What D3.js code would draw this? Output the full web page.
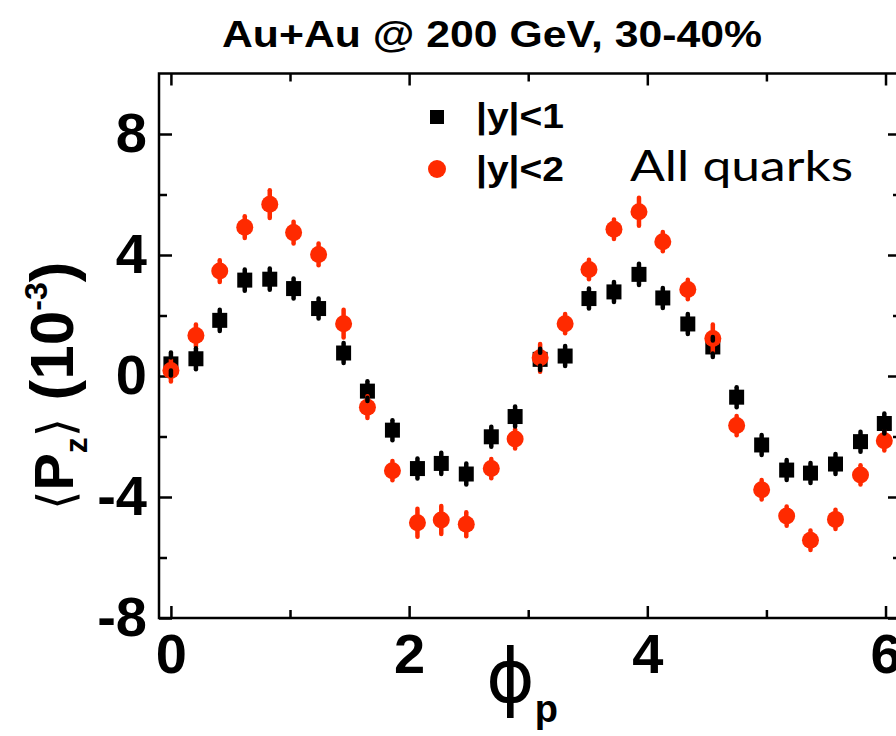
<!DOCTYPE html>
<html>
<head>
<meta charset="utf-8">
<script src="https://cdn.jsdelivr.net/npm/d3@7"></script>
<style>
  html, body { margin: 0; padding: 0; background: #fff; }
  svg { display: block; }
</style>
</head>
<body>
<div id="chart"></div>
<script>
// phi_p bin positions
var phi = [0.00, 0.21, 0.41, 0.62, 0.83, 1.03, 1.24, 1.45, 1.65, 1.86,
           2.07, 2.27, 2.48, 2.69, 2.89, 3.10, 3.31, 3.51, 3.72, 3.93,
           4.13, 4.34, 4.55, 4.75, 4.96, 5.17, 5.37, 5.58, 5.79, 5.99];

// <P_z> (10^-3), |y|<1
var pzY1 = [0.40, 0.57, 1.84, 3.17, 3.20, 2.89, 2.23, 0.76, -0.50, -1.79,
            -3.06, -2.89, -3.24, -2.01, -1.34, 0.55, 0.66, 2.56, 2.78, 3.36,
            2.58, 1.72, 0.96, -0.70, -2.28, -3.11, -3.21, -2.91, -2.17, -1.57];
var errY1 = [0.38, 0.35, 0.35, 0.35, 0.35, 0.33, 0.33, 0.33, 0.33, 0.33,
             0.33, 0.35, 0.35, 0.33, 0.33, 0.35, 0.33, 0.33, 0.33, 0.35,
             0.33, 0.33, 0.33, 0.33, 0.33, 0.33, 0.33, 0.33, 0.33, 0.33];

// <P_z> (10^-3), |y|<2
var pzY2 = [0.18, 1.34, 3.47, 4.92, 5.68, 4.74, 4.02, 1.73, -1.03, -3.13,
            -4.85, -4.76, -4.90, -3.06, -2.08, 0.60, 1.73, 3.52, 4.85, 5.43,
            4.44, 2.86, 1.24, -1.64, -3.76, -4.63, -5.43, -4.74, -3.27, -2.14];
var errY2 = [0.36, 0.36, 0.36, 0.36, 0.46, 0.36, 0.36, 0.46, 0.36, 0.32,
             0.46, 0.46, 0.40, 0.32, 0.32, 0.46, 0.32, 0.32, 0.32, 0.46,
             0.32, 0.32, 0.46, 0.32, 0.32, 0.32, 0.32, 0.32, 0.32, 0.32];

var xMajor = [0, 2, 4, 6];
var xMinor = [1, 3, 5];
var yMajor = [-8, -4, 0, 4, 8];
var yMinor = [-6, -2, 2, 6];

var legendLabels = ['|y|<1', '|y|<2'];
var RED = '#ff2a00';

var width = 896, height = 736;
var frame = {left: 159, right: 901, top: 73.5, bottom: 618};

var svg = d3.select('#chart').append('svg')
  .attr('width', width)
  .attr('height', height);

svg.append('rect').attr('width', width).attr('height', height).attr('fill', '#fff');

var x = d3.scaleLinear().domain([-0.1, 6.13]).range([frame.left, frame.right]);
var y = d3.scaleLinear().domain([-8, 10]).range([frame.bottom, frame.top]);

var tickFont = '"Liberation Sans", Arial, Helvetica, sans-serif';
var plain = function(d) { return String(d); };  // keep the hyphen minus

function styleAxis(g) {
  g.select('.domain').remove();
  g.selectAll('.tick line').attr('stroke', '#000').attr('stroke-width', 2.5);
  g.selectAll('.tick text')
    .attr('fill', '#000')
    .style('font-family', tickFont)
    .style('font-weight', 'bold')
    .style('font-size', '56px');
}

svg.append('g').attr('transform', 'translate(0,' + frame.bottom + ')')
  .call(d3.axisBottom(x).tickValues(xMajor).tickSize(-12).tickPadding(15).tickFormat(plain))
  .call(styleAxis);
svg.append('g').attr('transform', 'translate(0,' + frame.bottom + ')')
  .call(d3.axisBottom(x).tickValues(xMinor).tickSize(-8).tickFormat(''))
  .call(styleAxis);
svg.append('g').attr('transform', 'translate(0,' + frame.top + ')')
  .call(d3.axisTop(x).tickValues(xMajor).tickSize(-12).tickFormat(''))
  .call(styleAxis);
svg.append('g').attr('transform', 'translate(0,' + frame.top + ')')
  .call(d3.axisTop(x).tickValues(xMinor).tickSize(-8).tickFormat(''))
  .call(styleAxis);

svg.append('g').attr('transform', 'translate(' + frame.left + ',0)')
  .call(d3.axisLeft(y).tickValues(yMajor).tickSize(-13).tickPadding(12).tickFormat(plain))
  .call(styleAxis);
svg.append('g').attr('transform', 'translate(' + frame.left + ',0)')
  .call(d3.axisLeft(y).tickValues(yMinor).tickSize(-8).tickFormat(''))
  .call(styleAxis);
svg.append('g').attr('transform', 'translate(' + frame.right + ',0)')
  .call(d3.axisRight(y).tickValues(yMajor).tickSize(-13).tickFormat(''))
  .call(styleAxis);
svg.append('g').attr('transform', 'translate(' + frame.right + ',0)')
  .call(d3.axisRight(y).tickValues(yMinor).tickSize(-8).tickFormat(''))
  .call(styleAxis);

svg.append('rect')
  .attr('x', frame.left).attr('y', frame.top)
  .attr('width', frame.right - frame.left).attr('height', frame.bottom - frame.top)
  .attr('fill', 'none').attr('stroke', '#000').attr('stroke-width', 2.5);

// error bars drawn only outside the marker, like ROOT does
function errSegments(vals, errs, half) {
  var segs = [];
  vals.forEach(function(v, i) {
    var cx = x(phi[i]), cy = y(v);
    var top = y(v + errs[i]), bot = y(v - errs[i]);
    if (cy - top > half) segs.push([cx, cy - half, top]);
    if (bot - cy > half) segs.push([cx, cy + half, bot]);
  });
  return segs;
}

var sq = 15, rad = 8.5;

var blackData = pzY1.map(function(v, i) { return {p: phi[i], v: v}; });
var redData = pzY2.map(function(v, i) { return {p: phi[i], v: v}; });

svg.append('g').selectAll('rect')
  .data(blackData).enter().append('rect')
  .attr('x', function(d) { return x(d.p) - sq / 2; })
  .attr('y', function(d) { return y(d.v) - sq / 2; })
  .attr('width', sq).attr('height', sq)
  .attr('fill', '#000');

svg.append('g').selectAll('line')
  .data(errSegments(pzY2, errY2, rad - 1)).enter().append('line')
  .attr('x1', function(d) { return d[0]; }).attr('x2', function(d) { return d[0]; })
  .attr('y1', function(d) { return d[1]; }).attr('y2', function(d) { return d[2]; })
  .attr('stroke', RED).attr('stroke-width', 4.5).attr('stroke-linecap', 'round');

svg.append('g').selectAll('circle')
  .data(redData).enter().append('circle')
  .attr('cx', function(d) { return x(d.p); })
  .attr('cy', function(d) { return y(d.v); })
  .attr('r', rad)
  .attr('fill', RED);

svg.append('g').selectAll('line')
  .data(errSegments(pzY1, errY1, sq / 2 - 1)).enter().append('line')
  .attr('x1', function(d) { return d[0]; }).attr('x2', function(d) { return d[0]; })
  .attr('y1', function(d) { return d[1]; }).attr('y2', function(d) { return d[2]; })
  .attr('stroke', '#000').attr('stroke-width', 4.5).attr('stroke-linecap', 'round');

// legend
var legend = svg.append('g');
legend.append('rect').attr('x', 430).attr('y', 110).attr('width', 14).attr('height', 14).attr('fill', '#000');
legend.append('circle').attr('cx', 437).attr('cy', 169).attr('r', 9).attr('fill', RED);
legend.selectAll('text').data(legendLabels).enter().append('text')
  .attr('x', 476)
  .attr('y', function(d, i) { return 128 + i * 53; })
  .attr('textLength', 88).attr('lengthAdjust', 'spacingAndGlyphs')
  .style('font-family', tickFont).style('font-weight', 'bold').style('font-size', '35px')
  .text(function(d) { return d; });

svg.append('text')
  .attr('x', 630).attr('y', 181)
  .attr('textLength', 223).attr('lengthAdjust', 'spacingAndGlyphs')
  .style('font-family', 'Lato, "Open Sans", sans-serif').style('font-size', '42px')
  .text('All quarks');

// title
svg.append('text')
  .attr('x', 222).attr('y', 47)
  .attr('textLength', 540).attr('lengthAdjust', 'spacingAndGlyphs')
  .style('font-family', tickFont).style('font-weight', 'bold').style('font-size', '37px')
  .text('Au+Au @ 200 GeV, 30-40%');

// x title
var xt = svg.append('text').attr('x', 486).attr('y', 702);
xt.append('tspan').style('font-family', '"DejaVu Sans", sans-serif').style('font-size', '74px').text('\u03D5');
xt.append('tspan').attr('dy', 20).style('font-family', tickFont).style('font-weight', 'bold').style('font-size', '38px').text('p');

// y title
var yt = svg.append('text').attr('transform', 'translate(73,510) rotate(-90)');
yt.append('tspan').style('font-family', '"DejaVu Sans", sans-serif').style('font-size', '50px').text('\u27E8');
yt.append('tspan').style('font-family', tickFont).style('font-weight', 'bold').style('font-size', '56px').text('P');
yt.append('tspan').attr('dy', 14).style('font-family', tickFont).style('font-weight', 'bold').style('font-size', '32px').text('z');
yt.append('tspan').attr('dy', -14).style('font-family', '"DejaVu Sans", sans-serif').style('font-size', '50px').text('\u27E9');
yt.append('tspan').style('font-family', tickFont).style('font-weight', 'bold').style('font-size', '62px').text(' (10');
yt.append('tspan').attr('dy', -26).style('font-family', tickFont).style('font-weight', 'bold').style('font-size', '32px').text('-3');
yt.append('tspan').attr('dy', 26).style('font-family', tickFont).style('font-weight', 'bold').style('font-size', '62px').text(')');
</script>
</body>
</html>
